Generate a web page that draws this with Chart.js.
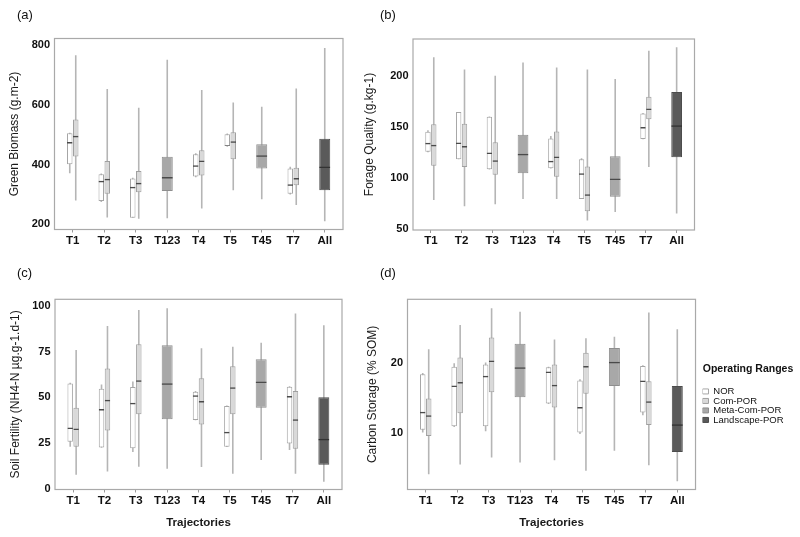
<!DOCTYPE html>
<html>
<head>
<meta charset="utf-8">
<title>Operating ranges by trajectory</title>
<script src="https://cdn.jsdelivr.net/npm/chart.js@4.4.1/dist/chart.umd.min.js"></script>
<style>
  html, body { margin: 0; padding: 0; background: #fff; }
  #wrap { position: relative; width: 800px; height: 537px; overflow: hidden; }
  canvas { position: absolute; }
</style>
</head>
<body>
<div id="wrap">
  <canvas id="chart_a" width="400" height="268" style="left:0px;top:0px"></canvas>
  <canvas id="chart_b" width="445" height="268" style="left:355px;top:0px"></canvas>
  <canvas id="chart_c" width="400" height="277" style="left:0px;top:260px"></canvas>
  <canvas id="chart_d" width="445" height="277" style="left:355px;top:260px"></canvas>
</div>
<script>
"use strict";

const trajectories = ['T1', 'T2', 'T3', 'T123', 'T4', 'T5', 'T45', 'T7', 'All'];
const ranges       = ['NOR', 'Com-POR', 'Meta-Com-POR', 'Landscape-POR'];

// one entry per trajectory : [min, q1, median, q3, max]  (null = no box)
// (a) green biomass
const biomass_NOR  = [[371,401,476,505,507], [275,278,346,368,370], [222,222,326,354,356], null,
                      [358,360,398,435,438], [460,462,465,502,504], null, [300,303,334,387,393], null];
const biomass_COM  = [[280,427,497,551,766], [223,303,353,412,653], [219,308,339,379,590], null,
                      [253,364,414,448,650], [314,418,478,508,608], null, [265,331,355,390,655], null];
const biomass_META = [null, null, null, [221,312,359,426,751], null, null, [284,387,431,468,594], null, null];
const biomass_LAND = [null, null, null, null, null, null, null, null, [211,314,394,487,790]];

// (b) forage quality
const forage_NOR   = [[125,125.4,134.2,145,146.5], [118,118.2,134.5,164.3,164.5], [108,108.2,124.7,159.7,160], null,
                      [109,109.2,116.5,138.4,141], [79,79.2,104.4,118.2,119], null, [137.8,138,149.6,163,163.5], null];
const forage_COM   = [[78,111.6,132.2,152.5,218], [72,110.6,131,152.9,206], [74,102.8,117.2,134.8,200], null,
                      [79,100.8,120.8,145.3,208], [58,67,83.8,111,206], null, [110.6,157.4,167.9,179.4,224.6], null];
const forage_META  = [null, null, null, [79,104.4,123.4,142,213], null, null, [66.4,81.2,99.2,121,196.7], null, null];
const forage_LAND  = [null, null, null, null, null, null, null, null, [64.8,120.1,151.5,184,227.8]];

// (c) soil fertility
const fert_NOR     = [[23,25.7,33.5,57.5,58], [22.4,22.6,43.6,54.7,57], [20.1,22.1,47.1,55.7,58.6], null,
                      [37.4,37.6,51.1,53.1,53.5], [22.8,23,31.2,45.3,45.5], null, [21.2,24.8,50.7,55.8,56], null];
const fert_COM     = [[7.7,23,33,44.3,75.9], [9.5,31.8,48.7,65.7,89], [12,40.7,59.3,79,97.8], null,
                      [11.9,35.2,48,60.4,76.8], [8.2,40.7,55.5,67,77.6], null, [8.2,21.9,38,53.5,95.8], null];
const fert_META    = [null, null, null, [11,38,57.7,78.5,98.7], null, null, [15.7,44.3,58.6,70.8,79.9], null, null];
const fert_LAND    = [null, null, null, null, null, null, null, null, [3.8,13.1,27.4,50,89.4]];

// (d) carbon storage
const carbon_NOR   = [[10,10.4,13,18.4,18.6], [10.8,10.9,16.8,19.5,20], [10.2,10.9,18.2,19.8,20.1], null,
                      [14.1,14.2,18.8,19.4,19.5], [9.8,10,13.7,17.5,17.7], null, [12.5,12.9,17.5,19.6,19.7], null];
const carbon_COM   = [[4,9.5,12.5,14.9,22], [5.4,12.8,17.3,20.8,25.5], [6.4,15.8,20.4,23.7,27.9], null,
                      [6,13.6,16.9,19.8,23.4], [4.5,15.6,19.6,21.5,23.6], null, [5.3,11.1,14.5,17.4,27.3], null];
const carbon_META  = [null, null, null, [5.7,15.1,19.4,22.8,27.4], null, null, [7.4,16.7,20.2,22.2,23.8], null, null];
const carbon_LAND  = [null, null, null, null, null, null, null, null, [3,7.2,11.2,16.7,24.9]];

// tick labels
const ticks_a = [200, 400, 600, 800];
const ticks_b = [50, 100, 150, 200];
const ticks_c = [0, 25, 50, 75, 100];
const ticks_d = [10, 20];

// colours
const range_fill = ['#ffffff', '#d9d9d9', '#a8a8a8', '#5a5a5a'];
const range_line = ['#a6a6a6', '#a0a0a0', '#8e8e8e', '#4c4c4c'];
const whisker_co = '#b5b5b5';
const median_co  = '#4a4a4a';

Chart.defaults.font.family = "'Liberation Sans', Arial, sans-serif";
Chart.defaults.color = '#1a1a1a';

// box plot = whisker bar + box bar + median edge, one stack per operating range
function boxDatasets(groups) {
    const out = [];
    groups.forEach((g, k) => {
        const common = {
            stack: ranges[k], skipNull: true, categoryPercentage: 0.38, barPercentage: 0.92,
            inflateAmount: 0, borderSkipped: false
        };
        out.push(Object.assign({}, common, {//中央値
            role: 'median',
            data: g.map(v => v ? [v[1], v[2]] : null),
            backgroundColor: 'rgba(0,0,0,0)',
            borderColor: k === 3 ? '#333333' : median_co,
            borderWidth: {top: 1.5, right: 0, bottom: 0, left: 0}
        }));
        out.push(Object.assign({}, common, {//箱
            role: 'box',
            label: ranges[k],
            data: g.map(v => v ? [v[1], v[3]] : null),
            backgroundColor: range_fill[k],
            borderColor: range_line[k],
            borderWidth: 1
        }));
        out.push(Object.assign({}, common, {//ひげ
            role: 'whisker',
            data: g.map(v => v ? [v[0], v[4]] : null),
            backgroundColor: whisker_co,
            borderWidth: 0,
            maxBarThickness: 1.6
        }));
    });
    return out;
}

// frame round the plot + panel letter
const panelFrame = {
    id: 'panelFrame',
    beforeDatasetsDraw(chart, args, opts) {
        const {ctx, chartArea: a} = chart;
        ctx.save();
        ctx.strokeStyle = '#a9a9a9';
        ctx.lineWidth = 1.2;
        ctx.strokeRect(a.left - opts.extend, a.top, a.right - a.left + 2 * opts.extend, a.bottom - a.top);
        ctx.restore();
    },
    afterDraw(chart, args, opts) {
        const ctx = chart.ctx;
        ctx.save();
        ctx.font = "13px 'Liberation Sans', Arial, sans-serif";
        ctx.fillStyle = '#111';
        ctx.textBaseline = 'middle';
        ctx.fillText(opts.tag, opts.tagX, opts.tagY);
        ctx.restore();
    }
};

function makeOptions(o) {
    const scales = {
        x: {
            type: 'category',
            offset: true,
            stacked: true,
            grid: {display: true, drawOnChartArea: false, drawTicks: true, tickLength: 3, offset: false, color: '#9a9a9a'},
            border: {display: false},
            ticks: {padding: 1, autoSkip: false, maxRotation: 0, font: {size: 11.5, weight: 'bold'}, color: '#111'},
            title: {display: !!o.xTitle, text: o.xTitle || '', font: {size: 11.5, weight: 'bold'}, color: '#1a1a1a', padding: {top: 0, bottom: 4}},
            afterFit: s => { s.height = o.xHeight; }
        },
        y: {
            type: 'linear',
            stacked: false,
            min: o.yMin,
            max: o.yMax,
            grid: {display: false, drawTicks: false},
            border: {display: false},
            ticks: {padding: 7, font: {size: 11, weight: 'bold'}, color: '#111'},
            afterBuildTicks: s => { s.ticks = o.yTicks.map(v => ({value: v})); },
            title: {display: true, text: o.yTitle, font: {size: 12}, color: '#1a1a1a', padding: {top: o.yTitlePad, bottom: 0}},
            afterFit: s => { s.width = o.yWidth; }
        }
    };
    if (o.legend) {
        scales.y2 = {// 余白
            position: 'right', display: true,
            grid: {display: false, drawTicks: false}, border: {display: false}, ticks: {display: false},
            afterFit: s => { s.width = 9.5; }
        };
    }
    return {
        responsive: false,
        animation: false,
        events: [],
        layout: {padding: o.pad},
        plugins: {
            legend: o.legend ? {
                display: true,
                position: 'right',
                align: 'center',
                fullSize: false,
                maxWidth: 120,
                title: {display: true, text: 'Operating Ranges', color: '#111',
                        font: {size: 10.5, weight: 'bold'}, padding: {top: 0, bottom: 10}},
                labels: {
                    boxWidth: 6, boxHeight: 5, padding: 0, color: '#111', font: {size: 9.5},
                    filter: (item, data) => data.datasets[item.datasetIndex].role === 'box'
                }
            } : {display: false},
            tooltip: {enabled: false},
            panelFrame: {tag: o.tag, tagX: o.tagX, tagY: o.tagY, extend: 2.5}
        },
        scales: scales
    };
}

//　(a)ーーーーーーーーーーー
new Chart(document.getElementById('chart_a'), {
    type: 'bar',
    data: {labels: trajectories, datasets: boxDatasets([biomass_NOR, biomass_COM, biomass_META, biomass_LAND])},
    options: makeOptions({
        tag: '(a)', tagX: 17, tagY: 15,
        pad: {top: 38.5, left: 0, right: 59.5, bottom: 18.5},
        yWidth: 57, xHeight: 20, yTitlePad: 7.8,
        yMin: 183, yMax: 822, yTicks: ticks_a, yTitle: 'Green Biomass (g.m-2)'
    }),
    plugins: [panelFrame]
});

//　(b)ーーーーーーーーーーー
new Chart(document.getElementById('chart_b'), {
    type: 'bar',
    data: {labels: trajectories, datasets: boxDatasets([forage_NOR, forage_COM, forage_META, forage_LAND])},
    options: makeOptions({
        tag: '(b)', tagX: 25, tagY: 15,
        pad: {top: 39, left: 0, right: 108, bottom: 18},
        yWidth: 60.5, xHeight: 20, yTitlePad: 7.8,
        yMin: 48.7, yMax: 236, yTicks: ticks_b, yTitle: 'Forage Quality (g.kg-1)'
    }),
    plugins: [panelFrame]
});

//　(c)ーーーーーーーーーーー
new Chart(document.getElementById('chart_c'), {
    type: 'bar',
    data: {labels: trajectories, datasets: boxDatasets([fert_NOR, fert_COM, fert_META, fert_LAND])},
    options: makeOptions({
        tag: '(c)', tagX: 17, tagY: 13,
        pad: {top: 39.3, left: 0, right: 60.5, bottom: 3.5},
        yWidth: 57.5, xHeight: 44, yTitlePad: 8.5, xTitle: 'Trajectories',
        yMin: -0.4, yMax: 103.6, yTicks: ticks_c, yTitle: 'Soil Fertility (NH4-N µg.g-1.d-1)'
    }),
    plugins: [panelFrame]
});

//　(d)ーーーーーーーーーーー
new Chart(document.getElementById('chart_d'), {
    type: 'bar',
    data: {labels: trajectories, datasets: boxDatasets([carbon_NOR, carbon_COM, carbon_META, carbon_LAND])},
    options: makeOptions({
        tag: '(d)', tagX: 25, tagY: 13,
        pad: {top: 39.3, left: 0, right: 6.5, bottom: 3.5},
        yWidth: 55, xHeight: 44, yTitlePad: 10.8, xTitle: 'Trajectories', legend: true,
        yMin: 1.8, yMax: 29.2, yTicks: ticks_d, yTitle: 'Carbon Storage (% SOM)'
    }),
    plugins: [panelFrame]
});
</script>
</body>
</html>
